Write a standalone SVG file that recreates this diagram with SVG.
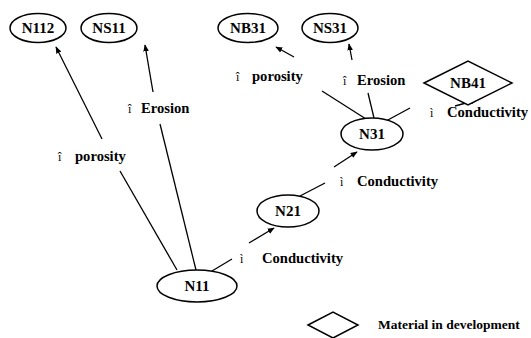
<svg xmlns="http://www.w3.org/2000/svg" width="531" height="338" viewBox="0 0 531 338">
<defs>
<marker id="ah" viewBox="0 0 10 10" refX="9" refY="5" markerWidth="7" markerHeight="7" orient="auto" markerUnits="userSpaceOnUse">
<path d="M0,1 L10,5 L0,9 Z" fill="#000"/>
</marker>
<style>
.shape{fill:#fff;stroke:#000;stroke-width:1.5}
.nl{font-family:"Liberation Serif","Times New Roman",serif;font-weight:bold;font-size:15px;text-anchor:middle}
.el{font-family:"Liberation Serif","Times New Roman",serif;font-weight:bold;font-size:14.6px}
.sym{font-family:"Liberation Serif","Times New Roman",serif;font-size:12px}
.lg{font-family:"Liberation Serif","Times New Roman",serif;font-weight:bold;font-size:13.5px}
.ln{stroke:#000;stroke-width:1.3;fill:none}
.ar{stroke:#000;stroke-width:1.3;fill:none;marker-end:url(#ah)}
</style>
</defs>
<rect width="531" height="338" fill="#fff"/>
<g id="connectors">
<line class="ln" x1="177" y1="270" x2="120" y2="171"/>
<line class="ar" x1="102" y1="139" x2="56" y2="47"/>
<text class="sym" x="58" y="161">î</text><text class="el" x="75" y="161">porosity</text>
<line class="ln" x1="196" y1="270" x2="160" y2="124"/>
<line class="ar" x1="153" y1="92" x2="145" y2="45"/>
<text class="sym" x="128" y="113">î</text><text class="el" x="141" y="113">Erosion</text>
<line class="ln" x1="212" y1="271" x2="232" y2="259"/>
<line class="ar" x1="249" y1="243" x2="274" y2="228"/>
<text class="sym" x="240" y="263">ì</text><text class="el" x="262" y="263">Conductivity</text>
<line class="ln" x1="300" y1="196" x2="325" y2="183"/>
<line class="ar" x1="334" y1="167" x2="357" y2="152"/>
<text class="sym" x="340" y="186">ì</text><text class="el" x="357" y="186">Conductivity</text>
<line class="ln" x1="374" y1="118" x2="368" y2="93"/>
<line class="ar" x1="352" y1="60" x2="349" y2="44"/>
<text class="sym" x="343" y="85">î</text><text class="el" x="357" y="85">Erosion</text>
<line class="ln" x1="366" y1="119" x2="322" y2="91"/>
<line class="ar" x1="294" y1="57" x2="276" y2="47"/>
<text class="sym" x="236" y="81">î</text><text class="el" x="252" y="81">porosity</text>
<line class="ln" x1="386" y1="121" x2="410" y2="108"/>
<line class="ar" x1="455" y1="106" x2="477" y2="100"/>
<text class="sym" x="430" y="117">ì</text><text class="el" x="447" y="117">Conductivity</text>
</g>
<g id="N112"><ellipse class="shape" cx="38" cy="28" rx="28" ry="14.5"/><text class="nl" x="38" y="33">N112</text></g>
<g id="NS11"><ellipse class="shape" cx="109" cy="28" rx="28" ry="14.5"/><text class="nl" x="109" y="33">NS11</text></g>
<g id="NB31"><ellipse class="shape" cx="248" cy="28" rx="30" ry="14.5"/><text class="nl" x="248" y="33">NB31</text></g>
<g id="NS31"><ellipse class="shape" cx="330" cy="28" rx="28" ry="14.5"/><text class="nl" x="330" y="33">NS31</text></g>
<g id="NB41"><polygon class="shape" points="424,83 468,61 512,83 468,105"/><text class="nl" x="468" y="88">NB41</text></g>
<g id="N31"><ellipse class="shape" cx="372" cy="134" rx="31" ry="16"/><text class="nl" x="372" y="139">N31</text></g>
<g id="N21"><ellipse class="shape" cx="288" cy="211" rx="31" ry="16"/><text class="nl" x="288" y="216">N21</text></g>
<g id="N11"><ellipse class="shape" cx="197" cy="286" rx="40" ry="16"/><text class="nl" x="197" y="291">N11</text></g>
<g id="legend"><polygon class="shape" points="308,325 333,312 358,325 333,338"/><text class="lg" x="378" y="329">Material in development</text></g>
</svg>
